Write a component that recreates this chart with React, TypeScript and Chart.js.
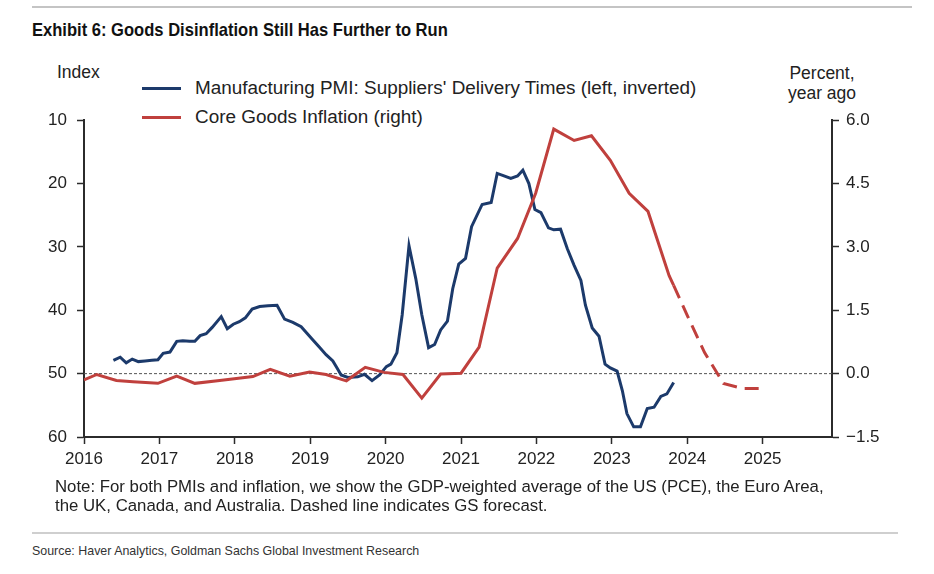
import React, { useEffect, useRef } from 'react';
import { Chart, registerables } from 'chart.js';

Chart.register(...registerables);

// ---- Data ----
const xTickYears = [2016, 2017, 2018, 2019, 2020, 2021, 2022, 2023, 2024, 2025];
const leftTicks = [10, 20, 30, 40, 50, 60];
const rightTicks = [-1.5, 0, 1.5, 3, 4.5, 6];

// Manufacturing PMI: Suppliers' Delivery Times (left axis, inverted)
const pmiDates = [
  2016.39, 2016.48, 2016.56, 2016.64, 2016.72, 2016.81, 2016.9, 2016.98, 2017.05, 2017.14,
  2017.23, 2017.31, 2017.4, 2017.47, 2017.54, 2017.62, 2017.7, 2017.82, 2017.9, 2017.98,
  2018.06, 2018.14, 2018.23, 2018.33, 2018.44, 2018.56, 2018.66, 2018.77, 2018.88, 2019.03,
  2019.12, 2019.21, 2019.3, 2019.35, 2019.41, 2019.5, 2019.63, 2019.72, 2019.82, 2019.92,
  2020.01, 2020.07, 2020.15, 2020.22, 2020.31, 2020.4, 2020.48, 2020.57, 2020.65, 2020.73,
  2020.82, 2020.89, 2020.97, 2021.06, 2021.14, 2021.28, 2021.4, 2021.48, 2021.57, 2021.66,
  2021.75, 2021.82, 2021.9, 2021.98, 2022.06, 2022.16, 2022.23, 2022.32, 2022.41, 2022.5,
  2022.59, 2022.65, 2022.74, 2022.83, 2022.91, 2022.98, 2023.07, 2023.14, 2023.2, 2023.29,
  2023.38, 2023.47, 2023.56, 2023.65, 2023.73, 2023.82,
];
const pmiValues = [
  47.9, 47.4, 48.3, 47.7, 48.1, 48.0, 47.9, 47.8, 46.8, 46.6,
  44.9, 44.8, 44.9, 44.9, 44.0, 43.7, 42.7, 41.0, 42.9, 42.2,
  41.8, 41.2, 39.8, 39.4, 39.3, 39.2, 41.4, 41.9, 42.6, 44.6,
  45.8, 47.0, 48.0, 49.0, 50.2, 50.6, 50.5, 50.1, 51.1, 50.2,
  48.9, 48.5, 46.7, 40.7, 29.8, 35.0, 40.7, 45.9, 45.4, 43.1,
  41.7, 36.6, 32.7, 31.8, 26.8, 23.3, 23.0, 18.4, 18.8, 19.2,
  18.8, 17.9, 20.0, 24.1, 24.6, 27.0, 27.3, 27.2, 30.3, 32.9,
  35.3, 39.2, 42.8, 44.1, 48.5, 49.1, 49.6, 52.7, 56.3, 58.4,
  58.4, 55.5, 55.3, 53.6, 53.2, 51.4,
];

// Core Goods Inflation (right axis, % yoy)
const coreDates = [
  2016.0, 2016.17, 2016.43, 2016.65, 2016.98, 2017.23, 2017.47, 2017.8, 2018.24, 2018.47,
  2018.73, 2018.99, 2019.21, 2019.48, 2019.73, 2019.98, 2020.23, 2020.48, 2020.73, 2021.0,
  2021.24, 2021.48, 2021.75, 2021.99, 2022.23, 2022.5, 2022.73, 2022.98, 2023.23, 2023.48,
  2023.76, 2023.82,
];
const coreValues = [
  -0.15, -0.02, -0.16, -0.19, -0.23, -0.06, -0.23, -0.16, -0.07, 0.1,
  -0.06, 0.04, -0.02, -0.17, 0.15, 0.03, -0.02, -0.58, -0.01, 0.01,
  0.63, 2.5, 3.2, 4.27, 5.79, 5.52, 5.63, 5.05, 4.27, 3.84,
  2.32, 2.09,
];

// GS forecast (dashed)
const forecastDates = [2023.82, 2024.0, 2024.23, 2024.48, 2024.73, 2024.97];
const forecastValues = [2.09, 1.38, 0.5, -0.23, -0.35, -0.35];

const BLUE = '#1c3a6b';
const RED = '#c0403d';
const AXIS = '#2b2b2b';
const TEXT = '#222';
const FONT = '"Liberation Sans", Arial, Helvetica, sans-serif';

const toPoints = (xs: number[], ys: number[]) => xs.map((x, i) => ({ x, y: ys[i] }));

const zeroLinePlugin = {
  id: 'zeroLine',
  beforeDatasetsDraw(chart: any) {
    const { ctx, chartArea } = chart;
    const y = chart.scales.y1.getPixelForValue(0);
    ctx.save();
    ctx.strokeStyle = '#555';
    ctx.lineWidth = 1;
    ctx.setLineDash([3, 2]);
    ctx.beginPath();
    ctx.moveTo(chartArea.left, y);
    ctx.lineTo(chartArea.right, y);
    ctx.stroke();
    ctx.restore();
  },
};

function ChartCanvas() {
  const ref = useRef<HTMLCanvasElement | null>(null);
  useEffect(() => {
    if (!ref.current) return;
    const tickFont = { family: FONT, size: 17 };
    const chart = new Chart(ref.current, {
      type: 'line',
      data: {
        datasets: [
          {
            label: "Manufacturing PMI: Suppliers' Delivery Times (left, inverted)",
            data: toPoints(pmiDates, pmiValues),
            yAxisID: 'y',
            borderColor: BLUE,
            borderWidth: 3,
            pointRadius: 0,
            tension: 0,
            order: 1,
          },
          {
            label: 'Core Goods Inflation (right)',
            data: toPoints(coreDates, coreValues),
            yAxisID: 'y1',
            borderColor: RED,
            borderWidth: 3,
            pointRadius: 0,
            tension: 0,
            order: 0,
          },
          {
            label: 'GS forecast',
            data: toPoints(forecastDates, forecastValues),
            yAxisID: 'y1',
            borderColor: RED,
            borderWidth: 3,
            borderDash: [14, 8],
            pointRadius: 0,
            tension: 0,
            order: 0,
          },
        ],
      },
      options: {
        animation: false,
        responsive: false,
        maintainAspectRatio: false,
        layout: { padding: { top: 16, left: 0, right: 0, bottom: 0 } },
        plugins: { legend: { display: false }, tooltip: { enabled: false } },
        scales: {
          x: {
            type: 'linear',
            min: 2016,
            max: 2025.92,
            afterBuildTicks: (s: any) => {
              s.ticks = xTickYears.map((v) => ({ value: v }));
            },
            afterFit: (s: any) => {
              s.height = 43;
            },
            ticks: {
              callback: (v: any) => String(v),
              font: tickFont,
              color: TEXT,
              padding: 5,
              maxRotation: 0,
              autoSkip: false,
            },
            grid: { drawOnChartArea: false, tickLength: 7, tickColor: AXIS, tickWidth: 1.5 },
            border: { color: AXIS, width: 2 },
          },
          y: {
            type: 'linear',
            position: 'left',
            reverse: true,
            min: 10,
            max: 60,
            afterBuildTicks: (s: any) => {
              s.ticks = leftTicks.map((v) => ({ value: v }));
            },
            afterFit: (s: any) => {
              s.width = 84;
            },
            ticks: { callback: (v: any) => String(v), font: tickFont, color: TEXT, padding: 10 },
            grid: { drawOnChartArea: false, tickLength: 7, tickColor: AXIS, tickWidth: 1.5 },
            border: { color: AXIS, width: 2 },
          },
          y1: {
            type: 'linear',
            position: 'right',
            min: -1.5,
            max: 6,
            afterBuildTicks: (s: any) => {
              s.ticks = rightTicks.map((v) => ({ value: v }));
            },
            afterFit: (s: any) => {
              s.width = 102;
            },
            ticks: {
              callback: (v: any) => (v < 0 ? '\u2212' + Math.abs(v).toFixed(1) : Number(v).toFixed(1)),
              font: tickFont,
              color: TEXT,
              padding: 7,
            },
            grid: { drawOnChartArea: false, tickLength: 7, tickColor: AXIS, tickWidth: 1.5 },
            border: { color: AXIS, width: 2 },
          },
        },
      },
      plugins: [zeroLinePlugin],
    } as any);
    return () => chart.destroy();
  }, []);
  return (
    <canvas
      ref={ref}
      width={934}
      height={380}
      style={{ position: 'absolute', left: 0, top: 100, width: 934, height: 380 }}
    />
  );
}

const abs = (style: React.CSSProperties): React.CSSProperties => ({
  position: 'absolute',
  whiteSpace: 'nowrap',
  color: TEXT,
  ...style,
});

export default function App() {
  return (
    <div
      style={{
        position: 'fixed',
        left: 0,
        top: 0,
        width: 934,
        height: 574,
        background: '#fff',
        overflow: 'hidden',
        fontFamily: FONT,
      }}
    >
      <div style={abs({ left: 32, top: 6, width: 880, height: 2, background: '#c4c4c4' })} />
      <div
        style={abs({
          left: 32,
          top: 21,
          fontWeight: 'bold',
          fontSize: 18.5,
          lineHeight: '18.5px',
          color: '#111',
          transform: 'scaleX(0.895)',
          transformOrigin: 'left top',
        })}
      >
        Exhibit 6: Goods Disinflation Still Has Further to Run
      </div>

      <div style={abs({ left: 57, top: 64, fontSize: 17.5, lineHeight: '17.5px' })}>Index</div>
      <div
        style={abs({
          left: 772,
          top: 63,
          width: 100,
          textAlign: 'center',
          fontSize: 17.5,
          lineHeight: '20px',
        })}
      >
        Percent,
        <br />
        year ago
      </div>

      <div style={abs({ left: 142, top: 86.5, width: 39, height: 3, background: BLUE })} />
      <div style={abs({ left: 195, top: 79, fontSize: 18.9, lineHeight: '18.9px' })}>
        Manufacturing PMI: Suppliers' Delivery Times (left, inverted)
      </div>
      <div style={abs({ left: 142, top: 115.5, width: 39, height: 3, background: RED })} />
      <div style={abs({ left: 195, top: 108, fontSize: 18.9, lineHeight: '18.9px' })}>
        Core Goods Inflation (right)
      </div>

      <ChartCanvas />

      <div style={abs({ left: 55, top: 478, fontSize: 16.8, lineHeight: '18.5px' })}>
        Note: For both PMIs and inflation, we show the GDP-weighted average of the US (PCE), the Euro Area,
        <br />
        the UK, Canada, and Australia. Dashed line indicates GS forecast.
      </div>

      <div style={abs({ left: 32, top: 532, width: 866, height: 2, background: '#cfcfcf' })} />
      <div
        style={abs({
          left: 32,
          top: 544,
          fontSize: 13.5,
          lineHeight: '13.5px',
          color: '#333',
          transform: 'scaleX(0.92)',
          transformOrigin: 'left top',
        })}
      >
        Source: Haver Analytics, Goldman Sachs Global Investment Research
      </div>
    </div>
  );
}
